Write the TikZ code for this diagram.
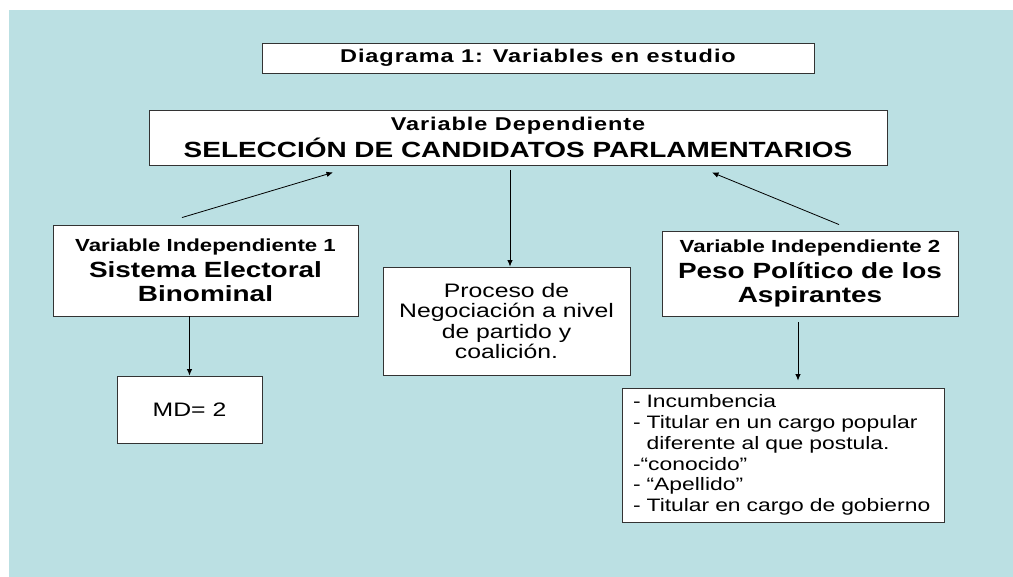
\documentclass[tikz,border=0pt]{standalone}
\usepackage{fontspec}
\setmainfont{Liberation Sans}[FakeStretch=1.27]
\newfontfamily\espaciada{Liberation Sans}[FakeStretch=1.27,LetterSpace=5]
\usetikzlibrary{arrows.meta}
\definecolor{fondo}{RGB}{187,224,227}
\tikzset{
  caja/.style={draw=black!80, line width=0.9pt, fill=white, align=center, inner sep=0pt},
  flecha/.style={-{Latex[length=6.5pt,width=5.5pt]}, line width=0.8pt},
}
\newcommand{\chica}{\fontsize{17.5}{21}\selectfont\bfseries}
\newcommand{\titular}{\fontsize{18.5}{21}\selectfont\bfseries}
\newcommand{\grande}{\fontsize{22}{24}\selectfont\bfseries}

\begin{document}
\begin{tikzpicture}[x=1pt,y=-1pt]
    \useasboundingbox (0,0) rectangle (1013,577);
    \fill[fondo] (9,10) rectangle (1013,577);

    \node[caja,minimum width=552pt,minimum height=30pt] (titulo) at (538,58)
        {\espaciada\titular Diagrama 1: Variables en estudio};
    \node[caja,minimum width=738pt,minimum height=55pt,font=\fontsize{22}{27.6}\selectfont\bfseries] (dep) at (518,137.5)
        {{\espaciada\titular Variable Dependiente}\\ SELECCIÓN DE CANDIDATOS PARLAMENTARIOS};

    \node[caja,minimum width=305pt,minimum height=91pt,font=\grande] (vi1) at (205.5,270.5)
        {{\chica Variable Independiente 1}\\[1.5pt] Sistema Electoral\\ Binominal};
    \node[caja,minimum width=247pt,minimum height=108pt,font=\fontsize{19.5}{20.5}\selectfont] (proc) at (506.5,321)
        {Proceso de\\ Negociación a nivel\\ de partido y\\ coalición.};
    \node[caja,minimum width=296pt,minimum height=85pt,font=\grande] (vi2) at (810,273.5)
        {{\chica Variable Independiente 2}\\[1.5pt] Peso Político de los\\ Aspirantes};

    \node[caja,minimum width=145pt,minimum height=67pt,font=\fontsize{19.5}{22}\selectfont] (md) at (189.5,409.5) {MD= 2};
    \node[caja,align=left,text width=300pt,inner xsep=11pt,minimum height=134pt,font=\fontsize{18}{20.8}\selectfont] (lista) at (783,455)
        {- Incumbencia\\
         - Titular en un cargo popular\\
         \hphantom{-\ }diferente al que postula.\\
         -“conocido”\\
         - “Apellido”\\
         - Titular en cargo de gobierno};

    \draw[flecha] ([xshift=-23.5pt,yshift=7pt]vi1.north) -- ([xshift=-185pt,yshift=-7pt]dep.south);
    \draw[flecha] ([xshift=29pt,yshift=6pt]vi2.north) -- ([xshift=194pt,yshift=-7pt]dep.south);
    \draw[flecha] ([xshift=-8pt,yshift=-5pt]dep.south) -- ([xshift=3.5pt]proc.north);
    \draw[flecha] (vi1.south -| md.north) -- (md.north);
    \draw[flecha] ([xshift=-12pt,yshift=-6pt]vi2.south) -- ([xshift=15pt,yshift=7pt]lista.north);
\end{tikzpicture}
\end{document}
